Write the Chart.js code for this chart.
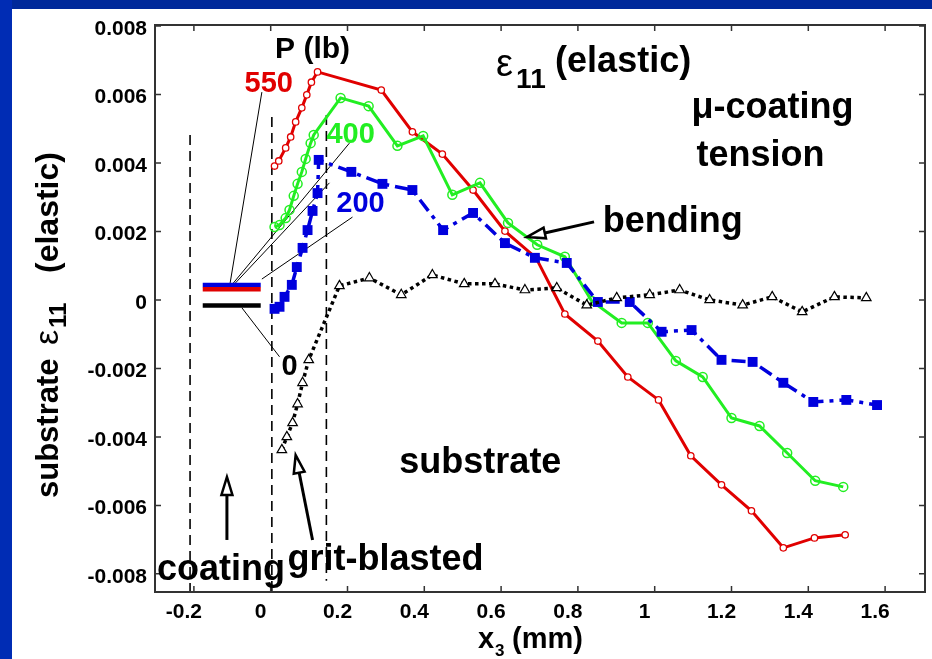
<!DOCTYPE html>
<html>
<head>
<meta charset="utf-8">
<script src="https://cdn.jsdelivr.net/npm/chart.js@4.4.0/dist/chart.umd.min.js"></script>
<style>
  html, body { margin: 0; padding: 0; background: #fff; }
  #wrap { width: 932px; height: 659px; position: relative; }
</style>
</head>
<body>
<div id="wrap"><canvas id="grafico"></canvas></div>
<script>
// P = 550 lb
const x550 = [0.010, 0.021, 0.039, 0.052, 0.065, 0.081, 0.094, 0.106, 0.122, 0.288, 0.369, 0.447, 0.527, 0.610, 0.691, 0.766, 0.852, 0.930, 1.010, 1.094, 1.174, 1.252, 1.335, 1.416, 1.496];
const y550 = [0.00391, 0.00406, 0.00444, 0.00476, 0.00520, 0.00561, 0.00599, 0.00636, 0.00666, 0.00613, 0.00491, 0.00426, 0.00321, 0.00201, 0.00123, -0.00041, -0.00120, -0.00225, -0.00292, -0.00455, -0.00540, -0.00616, -0.00724, -0.00695, -0.00686];

// P = 400 lb
const x400 = [0.010, 0.023, 0.039, 0.049, 0.060, 0.070, 0.081, 0.091, 0.104, 0.112, 0.182, 0.255, 0.330, 0.397, 0.473, 0.545, 0.618, 0.694, 0.766, 0.836, 0.914, 0.982, 1.055, 1.125, 1.200, 1.273, 1.345, 1.418, 1.491];
const y400 = [0.00213, 0.00219, 0.00239, 0.00263, 0.00304, 0.00339, 0.00374, 0.00412, 0.00458, 0.00482, 0.00590, 0.00566, 0.00450, 0.00479, 0.00307, 0.00342, 0.00225, 0.00161, 0.00126, -0.00003, -0.00067, -0.00067, -0.00178, -0.00225, -0.00345, -0.00368, -0.00447, -0.00528, -0.00546];

// P = 200 lb
const x200 = [0.010, 0.023, 0.036, 0.055, 0.068, 0.083, 0.096, 0.109, 0.122, 0.125, 0.210, 0.291, 0.369, 0.449, 0.527, 0.610, 0.688, 0.771, 0.852, 0.935, 1.018, 1.096, 1.174, 1.255, 1.335, 1.413, 1.499, 1.579];
const y200 = [-0.00026, -0.00020, 0.00009, 0.00044, 0.00096, 0.00152, 0.00204, 0.00260, 0.00312, 0.00409, 0.00374, 0.00339, 0.00321, 0.00204, 0.00254, 0.00166, 0.00123, 0.00108, -0.00006, -0.00006, -0.00093, -0.00088, -0.00175, -0.00181, -0.00242, -0.00298, -0.00292, -0.00307];

// P = 0 lb
const x0 = [0.029, 0.042, 0.057, 0.070, 0.083, 0.099, 0.179, 0.257, 0.340, 0.421, 0.504, 0.584, 0.662, 0.745, 0.823, 0.901, 0.987, 1.065, 1.143, 1.229, 1.306, 1.384, 1.468, 1.551];
const y0 = [-0.00438, -0.00400, -0.00359, -0.00304, -0.00242, -0.00175, 0.00041, 0.00064, 0.00015, 0.00073, 0.00047, 0.00047, 0.00029, 0.00035, -0.00015, 0.00006, 0.00015, 0.00029, 0.00000, -0.00015, 0.00009, -0.00035, 0.00009, 0.00006];

const xTicks = [-0.2, 0, 0.2, 0.4, 0.6, 0.8, 1, 1.2, 1.4, 1.6];
const yTicks = [-0.008, -0.006, -0.004, -0.002, 0, 0.002, 0.004, 0.006, 0.008];

// limites das camadas (linhas tracejadas)
const limites = [-0.21, 0.003, 0.145];

const FONTE = "'Liberation Sans', Arial, sans-serif";
const VERMELHO = '#e00000';
const VERDE = '#22ee22';
const AZUL = '#0000dd';

const pontos = (xs, ys) => xs.map((x, i) => ({ x: x, y: ys[i] }));

function texto(ctx, str, x, y, tam, cor, opts = {}) {
    ctx.save();
    ctx.font = (opts.peso || 'bold') + ' ' + tam + 'px ' + FONTE;
    ctx.fillStyle = cor;
    ctx.textAlign = opts.align || 'left';
    ctx.textBaseline = 'alphabetic';
    ctx.fillText(str, x, y);
    ctx.restore();
}

function seta(ctx, x1, y1, x2, y2) {
    const ang = Math.atan2(y2 - y1, x2 - x1);
    const c = Math.cos(ang), s = Math.sin(ang);
    const len = 18, meia = 5.5;
    const bx = x2 - len * c, by = y2 - len * s;
    ctx.save();
    ctx.strokeStyle = '#000';
    ctx.lineWidth = 3;
    ctx.beginPath();
    ctx.moveTo(x1, y1);
    ctx.lineTo(bx, by);
    ctx.stroke();
    ctx.beginPath();
    ctx.moveTo(x2, y2);
    ctx.lineTo(bx - meia * s, by + meia * c);
    ctx.lineTo(bx + meia * s, by - meia * c);
    ctx.closePath();
    ctx.fillStyle = '#fff';
    ctx.fill();
    ctx.lineWidth = 2.5;
    ctx.stroke();
    ctx.restore();
}

const moldura = {
    id: 'moldura',
    beforeDraw(chart) {
        const ctx = chart.ctx;
        ctx.save();
        ctx.fillStyle = '#fff';
        ctx.fillRect(0, 0, chart.width, chart.height);
        ctx.fillStyle = '#00299a';
        ctx.fillRect(0, 0, chart.width, 9);
        ctx.fillStyle = '#002cb4';
        ctx.fillRect(0, 0, 12, chart.height);
        ctx.restore();
    },
    beforeDatasetsDraw(chart) {
        const ctx = chart.ctx;
        const sx = chart.scales.x, sy = chart.scales.y;
        const X = v => sx.getPixelForValue(v), Y = v => sy.getPixelForValue(v);
        ctx.save();
        // linhas tracejadas verticais
        ctx.strokeStyle = '#000';
        ctx.lineWidth = 1.6;
        ctx.setLineDash([10, 6]);
        const topos = [0.00482, 0.00534, 0.0054];
        const bases = [-0.00853, -0.00853, -0.0082];
        limites.forEach((v, i) => {
            ctx.beginPath();
            ctx.moveTo(X(v), Y(topos[i]));
            ctx.lineTo(X(v), Y(bases[i]));
            ctx.stroke();
        });
        ctx.setLineDash([]);
        // linhas finas ligando a legenda aos rótulos
        ctx.lineWidth = 1;
        [[-0.106, 0.00047, -0.023, 0.00607],
         [-0.099, 0.00047, 0.205, 0.00458],
         [-0.094, 0.00047, 0.153, 0.00342],
         [-0.023, 0.00061, 0.213, 0.00242],
         [-0.075, -0.00023, 0.023, -0.00166]].forEach(l => {
            ctx.beginPath();
            ctx.moveTo(X(l[0]), Y(l[1]));
            ctx.lineTo(X(l[2]), Y(l[3]));
            ctx.stroke();
        });
        // barras da legenda
        ctx.lineWidth = 4.5;
        [[AZUL, 0.00044], [VERMELHO, 0.00031], ['#000', -0.00016]].forEach(b => {
            ctx.strokeStyle = b[0];
            ctx.beginPath();
            ctx.moveTo(X(-0.177), Y(b[1]));
            ctx.lineTo(X(-0.026), Y(b[1]));
            ctx.stroke();
        });
        ctx.restore();
    },
    afterDraw(chart) {
        const ctx = chart.ctx;
        const a = chart.chartArea;
        const sx = chart.scales.x, sy = chart.scales.y;
        const X = v => sx.getPixelForValue(v), Y = v => sy.getPixelForValue(v);
        ctx.save();
        // caixa e marcas internas (estilo MATLAB)
        ctx.strokeStyle = '#333';
        ctx.lineWidth = 2;
        ctx.strokeRect(a.left, a.top, a.right - a.left, a.bottom - a.top);
        ctx.lineWidth = 1.5;
        ctx.beginPath();
        xTicks.forEach(v => {
            const p = X(v);
            ctx.moveTo(p, a.bottom); ctx.lineTo(p, a.bottom - 6);
            ctx.moveTo(p, a.top); ctx.lineTo(p, a.top + 6);
        });
        yTicks.forEach(v => {
            const p = Y(v);
            ctx.moveTo(a.left, p); ctx.lineTo(a.left + 6, p);
            ctx.moveTo(a.right, p); ctx.lineTo(a.right - 6, p);
        });
        ctx.stroke();
        ctx.restore();

        // rótulos internos
        texto(ctx, 'P (lb)', X(0.109), Y(0.00707), 30, '#000', { align: 'center' });
        texto(ctx, '550', X(-0.005), Y(0.00607), 29, VERMELHO, { align: 'center' });
        texto(ctx, '400', X(0.208), Y(0.00458), 29, VERDE, { align: 'center' });
        texto(ctx, '200', X(0.234), Y(0.00257), 29, AZUL, { align: 'center' });
        texto(ctx, '0', X(0.049), Y(-0.00219), 29, '#000', { align: 'center' });

        const ex = X(0.587), ey = Y(0.00657);
        texto(ctx, 'ε', ex, ey + 1, 38, '#000', { peso: 'normal' });
        texto(ctx, '11', ex + 20, ey + 13, 28, '#000');
        texto(ctx, '(elastic)', ex + 59, ey - 3, 36, '#000');

        texto(ctx, 'μ-coating', X(1.096), Y(0.00531), 36, '#000');
        texto(ctx, 'tension', X(1.109), Y(0.00391), 36, '#000');
        texto(ctx, 'bending', X(0.865), Y(0.00199), 36, '#000');
        texto(ctx, 'substrate', X(0.335), Y(-0.00505), 36, '#000');
        texto(ctx, 'coating', X(-0.296), Y(-0.00818), 36, '#000');
        texto(ctx, 'grit-blasted', X(0.044), Y(-0.00788), 36, '#000');

        seta(ctx, X(0.842), Y(0.00228), X(0.668), Y(0.00184));
        seta(ctx, X(-0.114), Y(-0.00701), X(-0.114), Y(-0.00517));
        seta(ctx, X(0.109), Y(-0.00701), X(0.065), Y(-0.00453));

        // título do eixo x
        const tx = a.left + 323, ty = a.bottom + 56;
        texto(ctx, 'x', tx, ty, 29, '#000');
        texto(ctx, '3', tx + 17, ty + 8, 17, '#000');
        texto(ctx, '(mm)', tx + 34, ty, 29, '#000');

        // título do eixo y (vertical)
        ctx.save();
        ctx.translate(58, 498);
        ctx.rotate(-Math.PI / 2);
        texto(ctx, 'substrate', 0, 0, 31, '#000');
        texto(ctx, 'ε', 153, 0, 34, '#000', { peso: 'normal' });
        texto(ctx, '11', 170, 8, 24, '#000');
        texto(ctx, '(elastic)', 225, 0, 32, '#000');
        ctx.restore();
    }
};

new Chart(document.getElementById('grafico'), {
    type: 'scatter',
    data: {
        datasets: [
            {
                label: '0',
                data: pontos(x0, y0),
                showLine: true,
                borderColor: '#000',
                borderWidth: 3.5,
                borderDash: [3.5, 3.5],
                borderCapStyle: 'butt',
                pointStyle: 'triangle',
                pointRadius: 5.5,
                pointBorderWidth: 1.2,
                pointBorderColor: '#000',
                pointBackgroundColor: '#fff'
            },
            {
                label: '200',
                data: pontos(x200, y200),
                showLine: true,
                borderColor: AZUL,
                borderWidth: 3.5,
                borderDash: [14, 6, 4, 6],
                pointStyle: 'rect',
                pointRadius: 7,
                pointBorderWidth: 0,
                pointBackgroundColor: AZUL
            },
            {
                label: '400',
                data: pontos(x400, y400),
                showLine: true,
                borderColor: VERDE,
                borderWidth: 3,
                pointStyle: 'circle',
                pointRadius: 4.5,
                pointBorderWidth: 1.5,
                pointBorderColor: VERDE,
                pointBackgroundColor: 'rgba(255,255,255,0)'
            },
            {
                label: '550',
                data: pontos(x550, y550),
                showLine: true,
                borderColor: VERMELHO,
                borderWidth: 3,
                pointStyle: 'circle',
                pointRadius: 3.2,
                pointBorderWidth: 1.3,
                pointBorderColor: VERMELHO,
                pointBackgroundColor: '#fff'
            }
        ]
    },
    options: {
        responsive: true,
        maintainAspectRatio: false,
        animation: false,
        layout: { padding: { left: 0, right: 5, top: 25, bottom: 0 } },
        plugins: { legend: { display: false }, tooltip: { enabled: false } },
        elements: { line: { tension: 0 } },
        scales: {
            x: {
                type: 'linear',
                min: -0.3013,
                max: 1.7039,
                grid: { display: false, drawTicks: false },
                border: { display: false },
                afterBuildTicks: s => { s.ticks = xTicks.map(v => ({ value: v })); },
                afterFit: s => { s.height = 67; },
                ticks: {
                    color: '#000',
                    font: { family: FONTE, size: 21, weight: 'bold' },
                    padding: 8,
                    labelOffset: -10,
                    maxRotation: 0,
                    autoSkip: false,
                    callback: v => String(v)
                }
            },
            y: {
                type: 'linear',
                min: -0.00853,
                max: 0.00803,
                grid: { display: false, drawTicks: false },
                border: { display: false },
                afterBuildTicks: s => { s.ticks = yTicks.map(v => ({ value: v })); },
                afterFit: s => { s.width = 155; },
                ticks: {
                    color: '#000',
                    font: { family: FONTE, size: 21, weight: 'bold' },
                    padding: 8,
                    labelOffset: 3,
                    autoSkip: false,
                    callback: v => (v === 0 ? '0' : v.toFixed(3))
                }
            }
        }
    },
    plugins: [moldura]
});
</script>
</body>
</html>
